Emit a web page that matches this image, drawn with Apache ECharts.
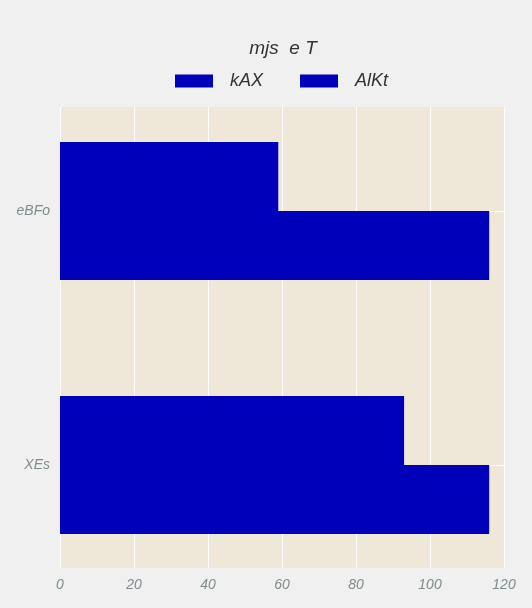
<!DOCTYPE html>
<html>
<head>
<meta charset="utf-8">
<script src="https://cdn.jsdelivr.net/npm/echarts@6/dist/echarts.min.js"></script>
<style>
html,body{margin:0;padding:0;background:#f0f0f0;}
#chart{width:532px;height:608px;}
</style>
</head>
<body>
<div id="chart"></div>
<script>
// categories bottom-to-top as ECharts lays out a category y axis
const categories=["XEs","eBFo"];
const seriesNames=["kAX","AlKt"];
const kAXValues=[93,59];
const AlKtValues=[116,116];
const xTicks=[0,20,40,60,80,100,120];

const chart=echarts.init(document.getElementById("chart"));

const fontFamily="Liberation Sans, Arial, sans-serif";

const labelFont={
    fontFamily:fontFamily,
    fontStyle:"italic",
    fontSize:14,
    color:"#7f8c8d"
};

chart.setOption({
    backgroundColor:"#f0f0f0",
    title:{
        text:"mjs  e T",
        left:283,
        textAlign:"center",
        top:39,
        padding:0,
        textStyle:{
            fontFamily:fontFamily,
            fontStyle:"italic",
            fontWeight:"normal",
            fontSize:19,
            color:"#333"
        }
    },
    legend:{
        top:72,
        left:175,
        padding:0,
        icon:"rect",
        itemWidth:38,
        itemHeight:13,
        itemGap:37,
        data:seriesNames,
        textStyle:{
            fontFamily:fontFamily,
            fontStyle:"italic",
            fontSize:18,
            color:"#333",
            padding:[0,0,0,12]
        }
    },
    // grid 0: panel, vertical grid lines, x labels
    // grid 1: bars, taller so the categories sit where the reference has them
    grid:[
        {
            left:60,
            right:28,
            top:107,
            bottom:40,
            show:true,
            backgroundColor:"#efe8d8",
            borderWidth:0
        },
        {
            left:60,
            right:28,
            top:84,
            bottom:16
        }
    ],
    xAxis:[
        {
            type:"value",
            gridIndex:0,
            min:xTicks[0],
            max:xTicks[xTicks.length-1],
            interval:20,
            axisLine:{show:false},
            axisTick:{show:false},
            axisLabel:Object.assign({margin:10},labelFont),
            splitLine:{lineStyle:{color:"#ffffff",width:1}}
        },
        {
            type:"value",
            gridIndex:1,
            min:xTicks[0],
            max:xTicks[xTicks.length-1],
            interval:20,
            show:false,
            splitLine:{show:false}
        }
    ],
    yAxis:[
        {
            type:"value",
            gridIndex:0,
            show:false,
            splitLine:{show:false}
        },
        {
            type:"category",
            gridIndex:1,
            data:categories,
            axisLine:{show:false},
            axisTick:{show:false},
            axisLabel:Object.assign({margin:10},labelFont),
            splitLine:{
                show:true,
                alignWithLabel:true,
                lineStyle:{color:"#ffffff",width:1}
            }
        }
    ],
    series:[
        {
            name:seriesNames[0],
            type:"bar",
            xAxisIndex:1,
            yAxisIndex:1,
            data:kAXValues,
            barGap:"0%",
            barWidth:69,
            itemStyle:{color:"#0000bb"}
        },
        {
            name:seriesNames[1],
            type:"bar",
            xAxisIndex:1,
            yAxisIndex:1,
            data:AlKtValues,
            barGap:"0%",
            barWidth:69,
            itemStyle:{color:"#0000bb"}
        }
    ]
});
</script>
</body>
</html>
